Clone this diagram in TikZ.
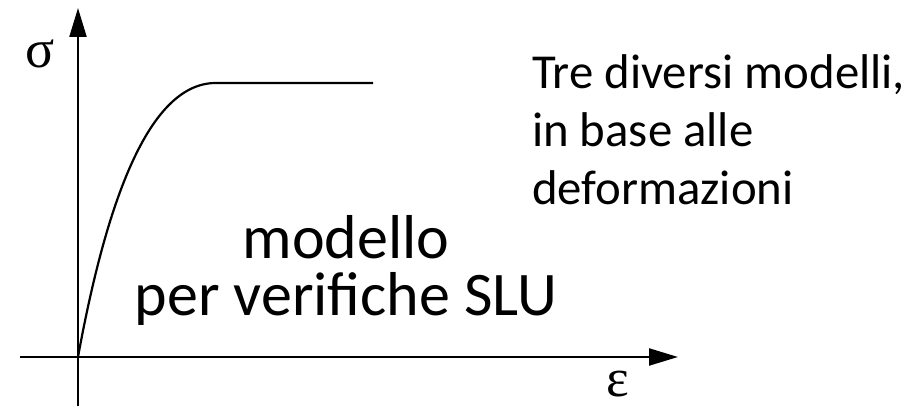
\documentclass[tikz,border=0pt]{standalone}
\usepackage{fontspec}
\setmainfont{Carlito}
\newfontfamily\greekfont{Liberation Serif}
\usetikzlibrary{arrows.meta}
\usetikzlibrary{math}

\begin{document}
\begin{tikzpicture}[x=0.5pt,y=-0.5pt,line width=1.1pt,
    axistip/.style={-{Triangle[length=14.5pt,width=8.5pt]}},
    axislabel/.style={inner sep=0pt,font=\greekfont\fontsize{27}{28}\selectfont}]

  \tikzmath{
    \ox    = 78;  % x of the origin
    \oy    = 357; % y of the origin
    \platy = 83;  % height of the plateau
  }

  \useasboundingbox (0,0) rectangle (922,406);

  % axes
  \coordinate (O)  at (\ox, \oy);
  \coordinate (S0) at (\ox, 406);
  \coordinate (S1) at (\ox, 8);
  \coordinate (E0) at (20, \oy);
  \coordinate (E1) at (678, \oy);

  \draw[axistip] (S0) -- (S1);
  \draw[axistip] (E0) -- (E1);

  \node[axislabel] (sigma) at (40, 54)  {σ};
  \node[axislabel] (eps)   at (618, 384) {ε};

  % stress-strain curve
  \coordinate (P) at (215, \platy); % start of the plateau
  \coordinate (Q) at (373, \platy); % end of the plateau
  \draw (O) .. controls (104, 215) and (145, 84) .. (P) -- (Q);

  % texts
  \node[anchor=north west, inner sep=0pt, align=left,
        font=\fontsize{24.4}{29}\selectfont] (note) at (531, 54)
    {Tre diversi modelli,\\in base alle\\deformazioni};

  \node[anchor=north, inner sep=0pt, align=center,
        font=\fontsize{31}{28.5}\selectfont] (model) at (346, 214)
    {modello\\per verifiche SLU};

\end{tikzpicture}
\end{document}
